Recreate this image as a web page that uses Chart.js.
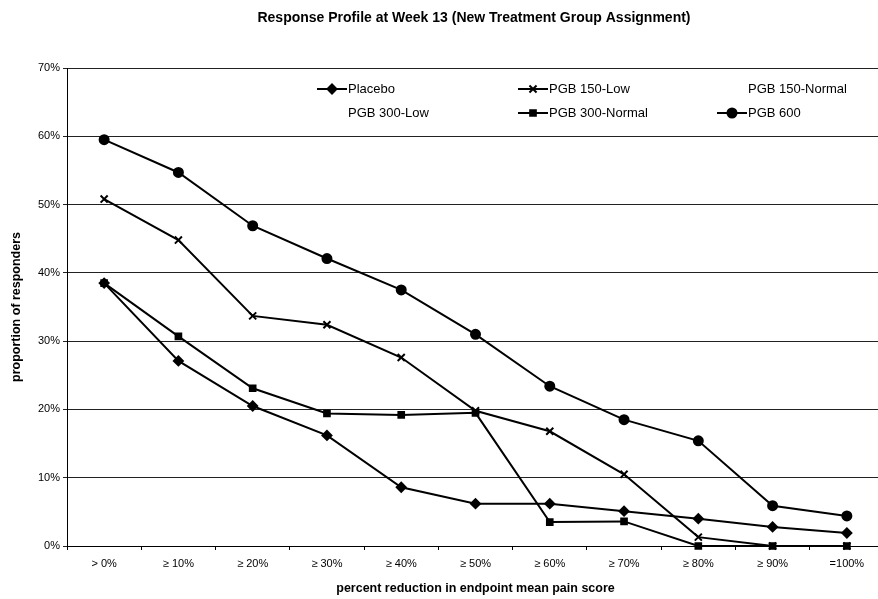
<!DOCTYPE html>
<html>
<head>
<meta charset="utf-8">
<script src="https://cdn.jsdelivr.net/npm/chart.js@4/dist/chart.umd.min.js"></script>
<style>
  html, body { margin: 0; padding: 0; background: #fff; overflow: hidden; width: 878px; height: 599px; }
  canvas { display: block; }
</style>
</head>
<body>
<canvas id="chart" width="892" height="599" style="width:892px;height:599px"></canvas>
<script>
// Response thresholds (percent reduction in endpoint mean pain score)
const categories = ['> 0%', '≥ 10%', '≥ 20%', '≥ 30%', '≥ 40%', '≥ 50%', '≥ 60%', '≥ 70%', '≥ 80%', '≥ 90%', '=100%'];

// Proportion of responders (%) per group
const placebo      = [38.5, 27.1, 20.5, 16.2, 8.6, 6.2, 6.2, 5.1, 4.0, 2.8, 1.9];
const pgb150Low    = [50.8, 44.8, 33.7, 32.4, 27.6, 19.8, 16.8, 10.5, 1.3, 0, 0];
const pgb150Normal = [];
const pgb300Low    = [];
const pgb300Normal = [38.5, 30.7, 23.1, 19.4, 19.2, 19.5, 3.5, 3.6, 0, 0, 0];
const pgb600       = [59.5, 54.7, 46.9, 42.1, 37.5, 31.0, 23.4, 18.5, 15.4, 5.9, 4.4];

const yTicks = [0, 10, 20, 30, 40, 50, 60, 70];

const chartTitle = 'Response Profile at Week 13 (New Treatment Group Assignment)';

const FONT = "'Liberation Sans', Arial, sans-serif";

function series(label, data, pointStyle, radius) {
  return {
    label, data, pointStyle,
    borderColor: '#000', backgroundColor: '#000',
    pointBorderColor: '#000', pointBackgroundColor: '#000',
    borderWidth: 2, pointRadius: radius, pointBorderWidth: 2,
    pointHoverRadius: radius, tension: 0, clip: false, fill: false
  };
}

// Heading above the plot
const heading = {
  id: 'heading',
  afterDraw(chart) {
    const ctx = chart.ctx;
    ctx.save();
    ctx.font = 'bold 14px ' + FONT;
    ctx.fillStyle = '#000';
    ctx.textAlign = 'center';
    ctx.textBaseline = 'middle';
    ctx.fillText(chartTitle, 474, 18);
    ctx.restore();
  }
};

// Two-row legend drawn inside the plot, each entry a line sample with its marker
const rowLegend = {
  id: 'rowLegend',
  afterDraw(chart) {
    const ctx = chart.ctx;
    const colX = [348, 549, 748];
    const rowY = [89, 113];
    ctx.save();
    ctx.font = '13px ' + FONT;
    ctx.textBaseline = 'middle';
    ctx.textAlign = 'left';
    chart.data.datasets.forEach((ds, i) => {
      const x = colX[i % 3], y = rowY[Math.floor(i / 3)];
      if (ds.data.length) {
        ctx.strokeStyle = '#000';
        ctx.fillStyle = '#000';
        ctx.lineWidth = 2;
        ctx.beginPath();
        ctx.moveTo(x - 31, y);
        ctx.lineTo(x - 1, y);
        ctx.stroke();
        Chart.helpers.drawPoint(ctx, {
          pointStyle: ds.pointStyle, radius: ds.pointRadius, rotation: 0, borderWidth: 2
        }, x - 16, y);
      }
      ctx.fillStyle = '#000';
      ctx.fillText(ds.label, x, y);
    });
    ctx.restore();
  }
};

new Chart(document.getElementById('chart'), {
  type: 'line',
  data: {
    labels: categories,
    datasets: [
      series('Placebo', placebo, 'rectRot', 4.5),
      series('PGB 150-Low', pgb150Low, 'crossRot', 5),
      series('PGB 150-Normal', pgb150Normal, 'circle', 4),
      series('PGB 300-Low', pgb300Low, 'circle', 4),
      series('PGB 300-Normal', pgb300Normal, 'rect', 4),
      series('PGB 600', pgb600, 'circle', 4.5)
    ]
  },
  plugins: [heading, rowLegend],
  options: {
    responsive: false,
    devicePixelRatio: 1,
    animation: false,
    events: [],
    layout: { padding: { left: 0, right: 8, top: 68, bottom: 0 } },
    plugins: {
      legend: { display: false },
      tooltip: { enabled: false },
      title: { display: false }
    },
    scales: {
      x: {
        type: 'category',
        offset: true,
        afterFit(scale) { scale.height = 53; },
        grid: { display: true, drawOnChartArea: false, drawTicks: true, tickLength: 4, offset: true, color: '#000' },
        border: { display: true, color: '#000', width: 1 },
        ticks: { color: '#000', padding: 7, maxRotation: 0, autoSkip: false, font: { family: FONT, size: 11 } },
        title: {
          display: true,
          text: 'percent reduction in endpoint mean pain score',
          color: '#000',
          font: { family: FONT, size: 12.5, weight: 'bold' },
          padding: { top: 4, bottom: 3 }
        }
      },
      y: {
        min: 0, max: 70,
        afterFit(scale) { scale.width = 67; },
        afterBuildTicks(scale) { scale.ticks = yTicks.map(v => ({ value: v })); },
        grid: { color: '#222', lineWidth: 1, drawTicks: true, tickLength: 4 },
        border: { display: true, color: '#000', width: 1 },
        ticks: { color: '#000', padding: 3, font: { family: FONT, size: 11 }, callback: v => v + '%' },
        title: {
          display: true,
          text: 'proportion of responders',
          color: '#000',
          font: { family: FONT, size: 12.5, weight: 'bold' },
          padding: { top: 9.5, bottom: 4 }
        }
      }
    }
  }
});
</script>
</body>
</html>
